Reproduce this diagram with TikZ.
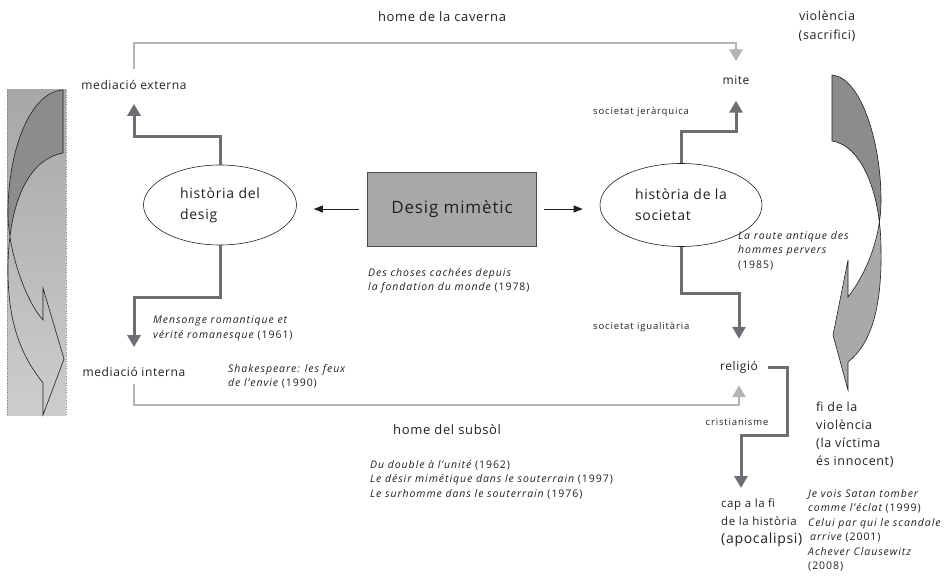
\documentclass[tikz,border=0pt]{standalone}
\usepackage{fontspec}
\setmainfont{Open Sans}[LetterSpace=5]
\usetikzlibrary{shapes.geometric,arrows.meta}
\definecolor{darkline}{HTML}{6D6E71}
\definecolor{lightline}{HTML}{B3B4B6}
\definecolor{boxgray}{HTML}{A7A8AA}
\definecolor{backgray}{HTML}{8B8C8E}
\definecolor{frontgray}{HTML}{A8A9AB}
\definecolor{bandtop}{HTML}{A6A7A9}
\definecolor{bandbottom}{HTML}{CCCDCF}
\definecolor{ink}{HTML}{231F20}

\begin{document}
\begin{tikzpicture}[x=1pt,y=-1pt,
  lbl/.style={font=\fontsize{12}{14}\selectfont, text=ink, inner sep=2pt},
  small/.style={font=\fontsize{9.5}{11}\selectfont\addfontfeature{LetterSpace=9}, text=ink, inner sep=0pt},
  ref/.style={font=\fontsize{10.5}{14.5}\selectfont\addfontfeature{LetterSpace=9}, text=ink, align=left, anchor=north west, inner sep=0pt},
  ell/.style={draw=ink, ellipse, line width=0.6pt, align=left, inner sep=0pt, font=\fontsize{14}{21}\selectfont, text=ink},
  darkarrow/.style={draw=darkline, line width=3pt, -{Triangle[width=13pt,length=12pt]}},
  lightarrow/.style={draw=lightline, line width=2.8pt, -{Triangle[width=13pt,length=12pt]}},
  thinarrow/.style={draw=ink, line width=0.8pt, -{Triangle[width=7pt,length=9pt]}},
  shapeline/.style={draw=ink, line width=0.6pt}]
\useasboundingbox (0,0) rectangle (945,577);

% left band
\shade[top color=bandtop, bottom color=bandbottom] (7,90) rectangle (66,415);
\draw[dotted, gray] (7,90) -- (7,415);
\draw[dotted, gray] (66,90) -- (66,415);
\begin{scope}
\clip (0,80) rectangle (70,234);
\fill[backgray] (63,153) -- (63,90) .. controls (30,92) and (8,150) .. (8,213) .. controls (8,250) and (25,300) .. (43,320) -- (43,383) .. controls (25,360) and (8,330) .. (8,270) .. controls (8,210) and (25,160) .. (63,153);
\end{scope}
\draw[shapeline] (63,153) -- (63,90) .. controls (30,92) and (8,150) .. (8,213) .. controls (8,250) and (25,300) .. (43,320) -- (43,288) -- (64,359) -- (43,415) -- (43,383) .. controls (25,360) and (8,330) .. (8,270) .. controls (8,210) and (25,160) .. (63,153);

% right band
\fill[frontgray] (832,141) -- (832,75) .. controls (860,77) and (881,140) .. (881,200) .. controls (881,240) and (865,275) .. (848,297) -- (848,260) -- (833,335) -- (848,390) -- (848,362) .. controls (870,345) and (882,310) .. (881,250) .. controls (881,190) and (860,145) .. (832,141) -- cycle;
\begin{scope}
\clip (820,60) rectangle (890,225);
\fill[backgray] (832,141) -- (832,75) .. controls (860,77) and (881,140) .. (881,200) .. controls (881,240) and (865,275) .. (848,297) -- (848,362) .. controls (870,345) and (882,310) .. (881,250) .. controls (881,190) and (860,145) .. (832,141) -- cycle;
\end{scope}
\draw[shapeline] (832,141) -- (832,75) .. controls (860,77) and (881,140) .. (881,200) .. controls (881,240) and (865,275) .. (848,297) -- (848,260) -- (833,335) -- (848,390) -- (848,362) .. controls (870,345) and (882,310) .. (881,250) .. controls (881,190) and (860,145) .. (832,141) -- cycle;

\node[draw=ink!80, fill=boxgray, line width=0.8pt, minimum width=169pt, minimum height=74pt, font=\fontsize{17}{18}\selectfont, text=ink] (dm) at (452,209) {Desig mimètic};
\node[ell, minimum width=153pt, minimum height=80pt] (hd) at (220,205) {història del\\desig};
\node[ell, minimum width=162pt, minimum height=83pt] (hs) at (681,205) {història de la\\societat};

\node[lbl] (mext) at (134,85) {mediació externa};
\node[lbl] (mint) at (134,372) {mediació interna};
\node[lbl] (mite) at (736,80) {mite};
\node[lbl] (rel) at (739,367) {religió};
\node[lbl, font=\fontsize{13}{14}\selectfont] (cav) at (442,17) {home de la caverna};
\node[lbl, font=\fontsize{13}{14}\selectfont, anchor=west, inner sep=0pt] (sub) at (393,430) {home del subsòl};
\node[small, anchor=west] (jer) at (593,112) {societat jeràrquica};
\node[small, anchor=west] (igu) at (593,327) {societat igualitària};
\node[small] (cri) at (737,422) {cristianisme};
\node[ref, font=\fontsize{11.5}{18}\selectfont] (cap) at (721,498) {cap a la fi\\de la història\\{\fontsize{14}{20}\selectfont (apocalipsi)}};
\node[lbl, font=\fontsize{12.5}{19}\selectfont, align=center] (vio) at (827,26) {violència\\(sacrifici)};
\node[ref, font=\fontsize{12.5}{18}\selectfont] (fiv) at (816,402) {fi de la\\violència\\(la víctima\\és innocent)};

\node[ref] (r78) at (368,268) {\itshape Des choses cachées depuis\\\itshape la fondation du monde \upshape(1978)};
\node[ref] (r61) at (153,316) {\itshape Mensonge romantique et\\\itshape vérité romanesque \upshape(1961)};
\node[ref] (r90) at (228,364) {\itshape Shakespeare: les feux\\\itshape de l'envie \upshape(1990)};
\node[ref] (r85) at (738,231) {\itshape La route antique des\\\itshape hommes pervers\\(1985)};
\node[ref] (r62) at (370,460) {\itshape Du double à l'unité \upshape(1962)\\\itshape Le désir mimétique dans le souterrain \upshape(1997)\\\itshape Le surhomme dans le souterrain \upshape(1976)};
\node[ref] (r99) at (808,489) {\itshape Je vois Satan tomber\\\itshape comme l'éclat \upshape(1999)\\\itshape Celui par qui le scandale\\\hspace{2pt}\itshape arrive \upshape(2001)\\\itshape Achever Clausewitz\\(2008)};

\draw[thinarrow, shorten <=8pt, shorten >=17pt] (dm.west) -- (dm.west -| hd.east);
\draw[thinarrow, shorten <=7pt, shorten >=17pt] (dm.east) -- (dm.east -| hs.west);

\draw[darkarrow, shorten >=12pt] (hd.north) -- ++(0,-28) -| (mext);
\draw[darkarrow, shorten >=18pt] (hd.south) -- ++(0,52) -| (mint);
\draw[darkarrow, shorten >=14pt] (hs.north) -- ++(0,-32) -| (mite);
\draw[darkarrow, shorten >=20pt] (hs.south) -- ++(0,47) -| (rel);
\draw[darkarrow, shorten <=8pt, shorten >=10pt] (rel.east) -- ++(27,0) -- ++(0,68) -| ([xshift=20pt]cap.north west);

\draw[lightarrow, shorten <=9pt, shorten >=12pt] (mext.north) -- (mext.north |- 0,43) -| (mite);
\draw[lightarrow, shorten <=5pt, shorten >=10pt] (mint.south) -- (mint.south |- 0,405) -| (rel);
\end{tikzpicture}
\end{document}
